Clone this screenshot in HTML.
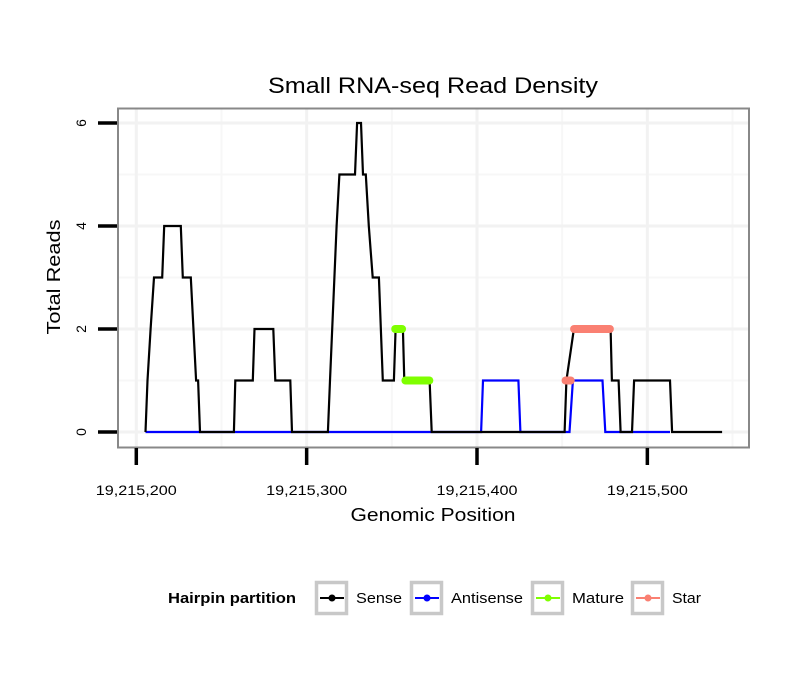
<!DOCTYPE html>
<html><head><meta charset="utf-8"><style>
body{margin:0;background:#fff;}
svg{display:block;font-family:"Liberation Sans",sans-serif;}
</style></head><body>
<svg id="chart" width="810" height="690">
<text x="433" y="93" font-size="22" text-anchor="middle" textLength="330" lengthAdjust="spacingAndGlyphs">Small RNA-seq Read Density</text>
<rect x="118" y="108.5" width="631" height="339" fill="#fff"/>
<g id="grid"></g>
<g id="series"></g>
<rect x="118" y="108.5" width="631" height="339" fill="none" stroke="#888" stroke-width="2"/>
<g id="axes"></g>
<text x="433" y="521" font-size="18" text-anchor="middle" textLength="165" lengthAdjust="spacingAndGlyphs">Genomic Position</text>
<text transform="translate(60,277) rotate(-90)" font-size="18" text-anchor="middle" textLength="115" lengthAdjust="spacingAndGlyphs">Total Reads</text>
<g>
<text x="168" y="603" font-size="15" font-weight="bold" textLength="128" lengthAdjust="spacingAndGlyphs">Hairpin partition</text>
<g id="legend"></g>
</g>
</svg>
<script>
const BASE = 19215200;
const xTicks = [19215200, 19215300, 19215400, 19215500];
const xTickLabels = ["19,215,200", "19,215,300", "19,215,400", "19,215,500"];
const yTicks = [0, 2, 4, 6];
const yTickLabels = ["0", "2", "4", "6"];
// [offset from 19,215,200, reads]
const senseOffsets = [5.4,6.6,8.4,10.4,15.2,16.4,26.1,27.3,32,35.1,36.3,37.4,57.3,58.1,68.4,69.4,80.4,81.6,90.4,91.4,112.5,113.7,117.6,119.2,128.4,129.6,131.9,133.1,134.7,136.5,138.8,142.4,144.7,151.2,152.2,156.5,157.3,172.2,173.4,251.4,252.5,256.9,278.4,279.2,283.1,284.3,291,292.2,313.3,314.5,343.9];
const senseValues  = [0,1,2,3,3,4,4,3,3,1,1,0,0,1,1,2,2,1,1,0,0,1,4,5,5,6,6,5,5,4,3,3,1,1,2,2,1,1,0,0,1,2,2,1,1,0,0,1,1,0,0];
const antiOffsets = [5.4,202.4,203.5,224.3,225.5,254.3,256.3,273.7,275.3,313.3];
const antiValues  = [0,0,1,1,0,0,1,1,0,0];
const matureStart = [152, 158];
const matureEnd   = [156, 172];
const matureValue = [2, 1];
const starStart = [252, 257];
const starEnd   = [255, 278];
const starValue = [1, 2];
const legendLabels = ["Sense", "Antisense", "Mature", "Star"];
const legendColors = ["#000000", "#0000ff", "#7fff00", "#fa8072"];
const legendWidths = [46, 72, 52, 29];

const NS = "http://www.w3.org/2000/svg";
const X0 = 136.3, XS = 1.7035, Y0 = 432, YS = 51.5;
function xs(off){ return X0 + off * XS; }
function xpos(pos){ return xs(pos - BASE); }
function ys(v){ return Y0 - v * YS; }
function mk(tag, attrs, parent){ const e = document.createElementNS(NS, tag); for (const k in attrs) e.setAttribute(k, attrs[k]); parent.appendChild(e); return e; }

const grid = document.getElementById('grid');
for (let i = 0; i < yTicks.length - 1; i++) {
  const gy = ys((yTicks[i] + yTicks[i+1]) / 2);
  const l = mk('line', {x1:118, x2:749, y1:gy, y2:gy, stroke:'#f7f7f7', 'stroke-width':2}, grid);
  
  
}
for (let i = 0; i <= xTicks.length; i++) {
  const gx = xpos(xTicks[0] + (i - 0.5) * 100);
  if (gx < 118 || gx > 749) continue;
  const l = mk('line', {x1:gx, x2:gx, y1:108.5, y2:447.5, stroke:'#f7f7f7', 'stroke-width':2}, grid);
  
  
}
yTicks.forEach(t => {
  const l = mk('line', {x1:118, x2:749, y1:ys(t), y2:ys(t), stroke:'#f2f2f2', 'stroke-width':3}, grid);
  
  
});
xTicks.forEach(t => {
  const l = mk('line', {x1:xpos(t), x2:xpos(t), y1:108.5, y2:447.5, stroke:'#f2f2f2', 'stroke-width':3}, grid);
  
  
});

const series = document.getElementById('series');
function pts(offs, vals){ return offs.map((o,i) => xs(o).toFixed(1) + ',' + ys(vals[i]).toFixed(1)).join(' '); }
const anti = mk('polyline', {points:pts(antiOffsets, antiValues), fill:'none', stroke:'#0000ff', 'stroke-width':2.2}, series);


const sense = mk('polyline', {points:pts(senseOffsets, senseValues), fill:'none', stroke:'#000', 'stroke-width':2.2}, series);


matureStart.forEach((s, i) => {
  const l = mk('line', {x1:xs(s), x2:xs(matureEnd[i]), y1:ys(matureValue[i]), y2:ys(matureValue[i]), stroke:'#7fff00', 'stroke-width':8, 'stroke-linecap':'round'}, series);
  
  
});
starStart.forEach((s, i) => {
  const l = mk('line', {x1:xs(s), x2:xs(starEnd[i]), y1:ys(starValue[i]), y2:ys(starValue[i]), stroke:'#fa8072', 'stroke-width':8, 'stroke-linecap':'round'}, series);
  
  
});

const axes = document.getElementById('axes');
xTicks.forEach((t, i) => {
  const l = mk('line', {x1:xpos(t), x2:xpos(t), y1:448, y2:465, stroke:'#000', 'stroke-width':3.5}, axes);
  
  
  const tx = mk('text', {x:xpos(t), y:495, 'font-size':13.5, 'text-anchor':'middle', textLength:81, lengthAdjust:'spacingAndGlyphs'}, axes);
  tx.textContent = xTickLabels[i];
  
  
});
yTicks.forEach((t, i) => {
  const l = mk('line', {x1:98, x2:117, y1:ys(t), y2:ys(t), stroke:'#000', 'stroke-width':3.5}, axes);
  
  
  const tx = mk('text', {transform:'translate(86,' + ys(t) + ') rotate(-90)', 'font-size':14, 'text-anchor':'middle'}, axes);
  tx.textContent = yTickLabels[i];
  
  
});

const legend = document.getElementById('legend');
const boxX = [315, 410, 531, 631];
legendLabels.forEach((lab, i) => {
  const g = mk('g', {}, legend);
  
  
  mk('rect', {x:boxX[i]+1.5, y:582.5, width:30, height:31, fill:'#fff', stroke:'#c8c8c8', 'stroke-width':3.5}, g);
  mk('line', {x1:boxX[i]+5, x2:boxX[i]+29, y1:598, y2:598, stroke:legendColors[i], 'stroke-width':2}, g);
  mk('circle', {cx:boxX[i]+17, cy:598, r:3.5, fill:legendColors[i]}, g);
  const tx = mk('text', {x:boxX[i]+41, y:603, 'font-size':15, textLength:legendWidths[i], lengthAdjust:'spacingAndGlyphs'}, g);
  tx.textContent = lab;
});
</script>
</body></html>
